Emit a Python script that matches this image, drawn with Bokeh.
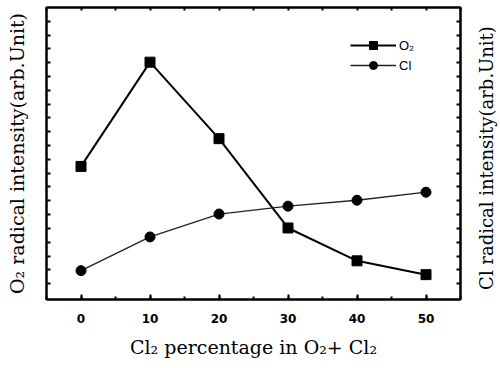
from bokeh.plotting import figure
from bokeh.layouts import row
from bokeh.models import (LinearAxis, SingleIntervalTicker, FixedTicker, Range1d, Legend, LegendItem, Div)
from bokeh.embed import file_html
from bokeh.resources import INLINE

# Data
cl2_pct = [0, 10, 20, 30, 40, 50]
o2_intensity = [8.49, 16.04, 10.50, 4.03, 1.65, 0.65]
cl_intensity = [0.94, 3.38, 5.04, 5.61, 6.04, 6.62]

x_label = "Cl\u2082 percentage in O\u2082+ Cl\u2082"
y_left_label = "O\u2082 radical intensity(arb.Unit)"
y_right_label = "Cl radical intensity(arb.Unit)"
legend_labels = ["O\u2082", "Cl"]

SERIF = "DejaVu Serif"
X0, X1 = -5, 55
Y0, Y1 = -1.15, 20.0

p = figure(width=470, height=360, output_backend="svg", toolbar_location=None,
           x_range=Range1d(X0, X1), y_range=Range1d(Y0, Y1),
           x_axis_location=None, y_axis_location=None,
           min_border_left=46, min_border_right=10, min_border_top=7, min_border_bottom=59)
p.grid.visible = False
p.outline_line_color = "black"
p.outline_line_width = 2
p.background_fill_color = "white"
p.border_fill_color = "white"

xt = SingleIntervalTicker(interval=10, num_minor_ticks=2)
top_ticker = FixedTicker(ticks=[], minor_ticks=list(range(-5, 56, 5)))
y_ticker = FixedTicker(ticks=[], minor_ticks=list(range(0, 20)))

def style(ax):
    ax.axis_line_width = 2
    ax.axis_line_color = "black"
    ax.major_tick_in = 5
    ax.major_tick_out = 0
    ax.minor_tick_in = 4
    ax.minor_tick_out = 0
    ax.major_tick_line_width = 2
    ax.minor_tick_line_width = 2
    ax.major_tick_line_color = "black"
    ax.minor_tick_line_color = "black"
    ax.major_label_standoff = 0
    ax.major_label_text_color = "black"
    ax.axis_label_text_color = "black"

bottom = LinearAxis(ticker=xt, axis_label=x_label)
style(bottom)
bottom.minor_tick_in = 3
bottom.major_label_text_font = "DejaVu Sans"
bottom.major_label_text_font_style = "bold"
bottom.major_label_text_font_size = "12px"
bottom.major_label_standoff = 14
bottom.axis_label_text_font = SERIF
bottom.axis_label_text_font_size = "19px"
bottom.axis_label_text_font_style = "normal"
bottom.axis_label_standoff = 10
p.add_layout(bottom, "below")

top = LinearAxis(ticker=top_ticker)
style(top)
top.minor_tick_in = 3
p.add_layout(top, "above")

left = LinearAxis(ticker=y_ticker, axis_label=y_left_label)
style(left)
left.axis_label_text_font = SERIF
left.axis_label_text_font_size = "19px"
left.axis_label_text_font_style = "normal"
left.axis_label_standoff = 19
p.add_layout(left, "left")

right = LinearAxis(ticker=y_ticker)
style(right)
p.add_layout(right, "right")

l1 = p.line(cl2_pct, o2_intensity, line_color="black", line_width=2)
s1 = p.scatter(cl2_pct, o2_intensity, marker="square", size=10, fill_color="black", line_color="black")
l2 = p.line(cl2_pct, cl_intensity, line_color="#222222", line_width=1.3)
s2 = p.scatter(cl2_pct, cl_intensity, marker="circle", size=10, fill_color="black", line_color="black")

legend = Legend(items=[LegendItem(label=legend_labels[0], renderers=[l1, s1]),
                       LegendItem(label=legend_labels[1], renderers=[l2, s2])],
                location=(304, 224))
legend.border_line_color = None
legend.background_fill_alpha = 0
legend.padding = 0
legend.margin = 0
legend.spacing = 0
legend.glyph_width = 46
legend.glyph_height = 20
legend.label_height = 20
legend.label_standoff = 3
legend.label_text_font = "Liberation Sans"
legend.label_text_font_size = "13px"
legend.label_text_color = "black"
p.add_layout(legend, "center")

# right-hand axis title, reading bottom-to-top like the left one
right_title = Div(
    text=('<div style="position:absolute; left:12px; top:153px; '
          'transform:translate(-50%,-50%) rotate(-90deg); white-space:nowrap; '
          f'font-family:\'{SERIF}\'; font-size:18px; color:black;">{y_right_label}</div>'),
    width=30, height=360, styles={"position": "relative", "overflow": "visible"})

layout = row(p, right_title, spacing=0)
open("out.html", "w").write(file_html(layout, INLINE))
